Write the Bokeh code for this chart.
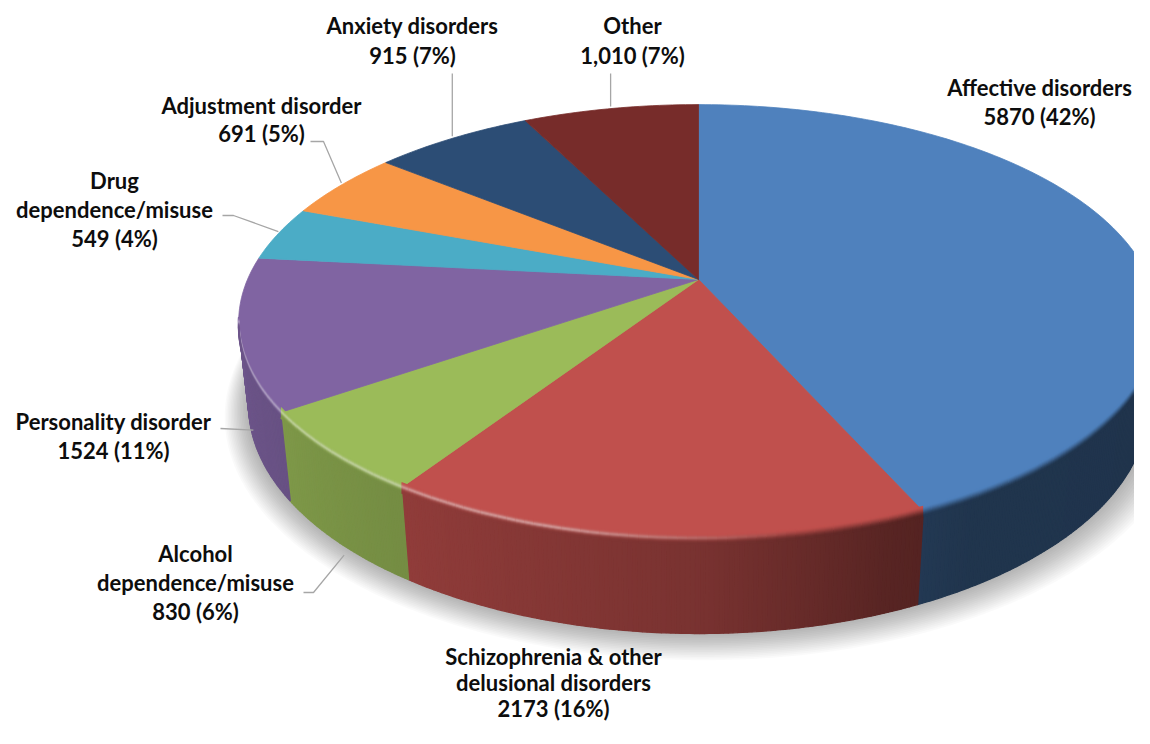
import math
import numpy as np
from bokeh.plotting import figure
from bokeh.models import ColumnDataSource, Range1d
from bokeh.core.properties import value
from bokeh.embed import file_html
from bokeh.resources import INLINE

# ---------------- data ----------------
categories = ["Affective disorders",
              "Schizophrenia & other\ndelusional disorders",
              "Alcohol\ndependence/misuse",
              "Personality disorder",
              "Drug\ndependence/misuse",
              "Adjustment disorder",
              "Anxiety disorders",
              "Other"]
counts = [5870, 2173, 830, 1524, 549, 691, 915, 1010]
value_labels = ["5870 (42%)", "2173 (16%)", "830 (6%)", "1524 (11%)",
                "549 (4%)", "691 (5%)", "915 (7%)", "1,010 (7%)"]
colors = ["#4F81BD", "#C0504D", "#9BBB59", "#8064A2",
          "#4BACC6", "#F79646", "#2C4D75", "#772C2A"]

# ---------------- layout / style ----------------
W, HGT = 1134, 728
CX, CY = 698.0, 279.0          # projected pie centre (screen px)
A, B, K = 451.0, 209.0, 0.195  # top-ellipse scales and perspective factor
SIN_T = B / A
COS_T = math.sqrt(1 - SIN_T ** 2)
DIST = COS_T / K
FOC = A * DIST
THICK = 0.209                  # pie thickness (radius units)
label_pos = [(1039, 101), (553, 682), (195, 582), (113, 435),
             (114, 209), (261, 119), (412, 40), (632, 40)]
line_step = [29, 26, 29, 29, 29, 28, 30, 30]
leader_start = [None, None, (303, 592), (220, 428), (222, 215), (310, 141), (None, 73), (None, 73)]
leader_elbow = [None, None, (313, 592), None, (233, 215), (323, 141), None, None]
anchor_mode = [None, None, "below", "below", "rim", "rim", "rim", "rim"]


def hex2rgb(h):
    h = h.lstrip("#")
    return np.array([int(h[i:i + 2], 16) for i in (0, 2, 4)], dtype=float)


def rgb2hex(c):
    c = np.clip(np.round(c), 0, 255).astype(int)
    return "#%02x%02x%02x" % tuple(c)


def proj(theta, depth=0.0):
    th = np.radians(theta)
    X, Z = np.sin(th), np.cos(th)
    den = DIST + Z * COS_T + THICK * depth * SIN_T
    x = CX + FOC * X / den
    y = CY - FOC * (Z * SIN_T - THICK * depth * COS_T) / den
    return x, y


def side_factor(theta):
    return np.interp(theta, [100, 150, 160, 180, 213, 235, 262],
                     [0.40, 0.41, 0.46, 0.63, 0.75, 0.81, 0.86])


def highlight(theta):
    return np.interp(theta, [150, 170, 195, 262], [0.0, 0.0, 0.42, 0.36])


total = float(sum(counts))
bounds = np.concatenate([[0], np.cumsum(counts) / total * 360.0])
th_vis = math.degrees(math.acos(-K))
vis_lo, vis_hi = th_vis, 360 - th_vis

p = figure(width=W, height=HGT, output_backend="svg", toolbar_location=None,
           x_axis_location=None, y_axis_location=None, min_border=0,
           x_range=Range1d(0, W), y_range=Range1d(HGT, 0))
p.grid.visible = False
p.outline_line_color = None
p.background_fill_color = "white"
p.border_fill_color = "white"

# ---- soft shadow ----
tt = np.linspace(0, 360, 361)
bx, by = proj(tt, 1.0)
sh_x, sh_y = [], []
for d in range(1, 17):
    s = 1 + 0.004 * d
    sh_x.append(list(CX + (bx - CX) * s + 0.3 * d))
    sh_y.append(list(CY + 60 + (by - CY - 60) * s + 0.5 * d))
p.patches(sh_x, sh_y, fill_color="black", fill_alpha=0.02, line_color=None)

# ---- side walls ----
qx, qy, qc = [], [], []
for i in range(len(counts)):
    a0, a1 = max(bounds[i], vis_lo), min(bounds[i + 1], vis_hi)
    if a1 <= a0:
        continue
    n = max(2, int((a1 - a0) / 0.5) + 1)
    ts = np.linspace(a0, a1, n)
    base = hex2rgb(colors[i])
    for t0, t1 in zip(ts[:-1], ts[1:]):
        x0, y0 = proj(t0)
        x1, y1 = proj(t1)
        x2, y2 = proj(t1, 1)
        x3, y3 = proj(t0, 1)
        qx.append([x0, x1, x2, x3])
        qy.append([y0, y1, y2, y3])
        qc.append(rgb2hex(base * side_factor(0.5 * (t0 + t1))))
p.patches(qx, qy, fill_color=qc, line_color=qc, line_width=1.3)

# ---- top faces ----
fx, fy, fc = [], [], []
for i in range(len(counts)):
    a0, a1 = bounds[i], bounds[i + 1]
    ts = np.linspace(a0, a1, max(3, int(a1 - a0) + 2))
    rx, ry = proj(ts)
    fx.append([CX] + list(rx))
    fy.append([CY] + list(ry))
    fc.append(colors[i])
p.patches(fx, fy, fill_color=fc, line_color=fc, line_width=0.8)

# ---- bevel band along the visible front rim ----
mx, my, mc = [], [], []
for o in np.linspace(-5, 5, 11):
    tpos = (o + 5) / 10.0
    sm = tpos * tpos * (3 - 2 * tpos)
    bump = math.exp(-((tpos - 0.42) / 0.2) ** 2)
    for i in range(len(counts)):
        a0, a1 = max(bounds[i], vis_lo), min(bounds[i + 1], vis_hi)
        if a1 <= a0:
            continue
        n = max(2, int((a1 - a0) / 1.0) + 1)
        ts = np.linspace(a0, a1, n)
        top = hex2rgb(colors[i])
        for t0, t1 in zip(ts[:-1], ts[1:]):
            tm = 0.5 * (t0 + t1)
            side = top * side_factor(tm)
            c = top * (1 - sm) + side * sm
            c = c + (255 - c) * highlight(tm) * bump
            x0, y0 = proj(t0)
            x1, y1 = proj(t1)
            mx.append([x0, x1])
            my.append([y0 + o, y1 + o])
            mc.append(rgb2hex(c))
p.multi_line(mx, my, line_color=mc, line_width=1.6)

# ---- leader lines ----
lx, ly = [], []
for i in range(len(counts)):
    if anchor_mode[i] is None:
        continue
    mid = 0.5 * (bounds[i] + bounds[i + 1])
    if anchor_mode[i] == "rim":
        ax, ay = proj(mid)
        ay -= 2
    else:
        ax, ay = proj(mid, 1)
        ax, ay = ax + 4, ay + 12
    sx, sy = leader_start[i]
    if sx is None:
        sx = ax
    pts = [(sx, sy)]
    if leader_elbow[i] is not None:
        pts.append(leader_elbow[i])
    pts.append((ax, ay))
    lx.append([q[0] for q in pts])
    ly.append([q[1] for q in pts])
p.multi_line(lx, ly, line_color="#A6A6A6", line_width=1.3)

# ---- labels ----
tx, ty, tt_ = [], [], []
for i in range(len(counts)):
    lines = categories[i].split("\n") + [value_labels[i]]
    cx, cy = label_pos[i]
    n = len(lines)
    for j, line in enumerate(lines):
        tx.append(cx)
        ty.append(cy + (j - (n - 1) / 2.0) * line_step[i])
        tt_.append(line)
src = ColumnDataSource(dict(x=tx, y=ty, text=tt_))
p.text(x="x", y="y", text="text", source=src, text_font=value("Lato"),
       text_font_style="bold", text_font_size=value("22px"), text_color="#0D0D0D",
       text_align="center", text_baseline="middle")

open("out.html", "w").write(file_html(p, INLINE))
